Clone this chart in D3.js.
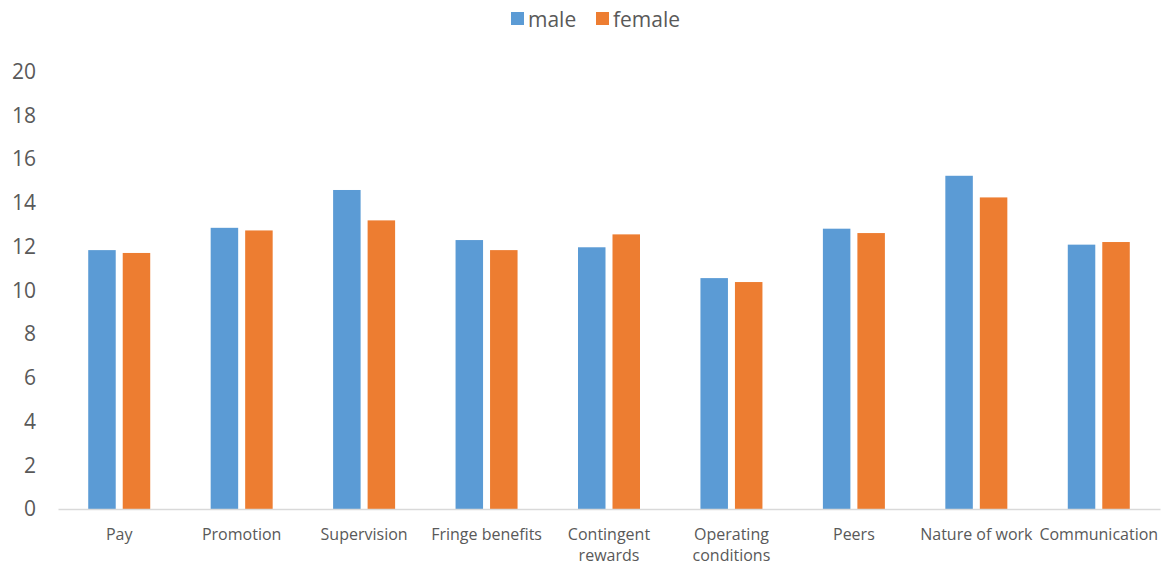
<!DOCTYPE html>
<html>
<head>
<meta charset="utf-8">
<script src="https://cdn.jsdelivr.net/npm/d3@7"></script>
<style>
  html, body { margin: 0; padding: 0; background: #fff; }
  svg { display: block; }
  text { font-family: "Open Sans", Lato, sans-serif; fill: #595959; }
</style>
</head>
<body>
<svg id="chart" width="1161" height="566"></svg>
<script>
// Job satisfaction facet scores by gender
const categories = [
  ["Pay"], ["Promotion"], ["Supervision"], ["Fringe benefits"],
  ["Contingent", "rewards"], ["Operating", "conditions"], ["Peers"],
  ["Nature of work"], ["Communication"]
];
const seriesNames = ["male", "female"];
const maleValues   = [11.84, 12.86, 14.59, 12.30, 11.97, 10.56, 12.82, 15.24, 12.09];
const femaleValues = [11.71, 12.74, 13.20, 11.84, 12.56, 10.38, 12.62, 14.25, 12.21];
const yTicks = [0, 2, 4, 6, 8, 10, 12, 14, 16, 18, 20];
const colors = ["#5b9bd5", "#ed7d31"];

const svg = d3.select("#chart");
const plot = { left: 58, right: 1160, top: 71.7, bottom: 509 };

const x = d3.scaleBand()
  .domain(categories.map((c, i) => i))
  .range([plot.left, plot.right])
  .paddingInner(0).paddingOuter(0);

const y = d3.scaleLinear().domain([0, 20]).range([plot.bottom, plot.top]);

const barW = 27.5, innerGap = 7;
const sub = d3.scaleOrdinal().domain([0, 1])
  .range([-(barW + innerGap / 2), innerGap / 2]);

const rows = categories.map((c, i) => ({ i, vals: [maleValues[i], femaleValues[i]] }));

// Bars
const groups = svg.append("g").selectAll("g").data(rows).join("g")
  .attr("transform", d => `translate(${x(d.i) + x.bandwidth() / 2},0)`);
groups.selectAll("rect")
  .data(d => d.vals.map((v, s) => ({ v, s })))
  .join("rect")
  .attr("x", d => sub(d.s))
  .attr("width", barW)
  .attr("y", d => y(d.v))
  .attr("height", d => y(0) - y(d.v))
  .attr("fill", d => colors[d.s]);

// Y axis labels (no line, no ticks)
const yAxis = svg.append("g")
  .attr("transform", `translate(${plot.left},0)`)
  .call(d3.axisLeft(y).tickValues(yTicks).tickSize(0).tickPadding(22).tickFormat(d3.format("d")));
yAxis.select(".domain").remove();
yAxis.selectAll("text").style("font-size", "21px").attr("fill", "#595959")
  .style("font-family", "'Open Sans', Lato, sans-serif");

// X axis baseline
const xAxis = svg.append("g")
  .attr("transform", `translate(0,${plot.bottom})`)
  .call(d3.axisBottom(x).tickSize(0).tickFormat(""));
xAxis.select(".domain").attr("stroke", "#d9d9d9").attr("stroke-width", 1.3);

// Category labels, wrapped onto two lines where needed
const labels = svg.append("g").selectAll("text").data(rows).join("text")
  .attr("x", d => x(d.i) + x.bandwidth() / 2)
  .attr("y", 540)
  .attr("text-anchor", "middle")
  .style("font-size", "16px");
labels.selectAll("tspan")
  .data(d => categories[d.i].map(line => ({ line, cx: x(d.i) + x.bandwidth() / 2 })))
  .join("tspan")
  .attr("x", d => d.cx)
  .attr("dy", (d, k) => k === 0 ? 0 : 21)
  .text(d => d.line);

// Legend
const legend = svg.append("g").attr("transform", "translate(511,12)");
const legendX = [0, 85];
seriesNames.forEach((name, s) => {
  const g = legend.append("g").attr("transform", `translate(${legendX[s]},0)`);
  g.append("rect").attr("width", 13).attr("height", 13).attr("fill", colors[s]);
  g.append("text").attr("x", 17).attr("y", 14.5).style("font-size", "21px").text(name);
});
</script>
</body>
</html>
